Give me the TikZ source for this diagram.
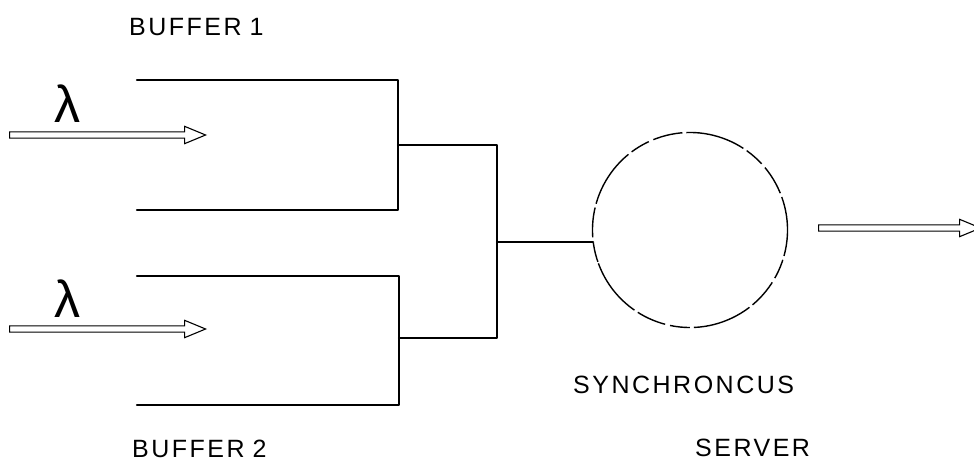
\documentclass[tikz,border=0pt]{standalone}
\usepackage{fontspec}
\setmainfont{Liberation Sans}
\newfontfamily\lblfont[LetterSpace=10]{Liberation Sans}
\usetikzlibrary{shapes.arrows}
\tikzset{
  wire/.style={line width=2.2pt, line cap=round, line join=round},
  lbl/.style={font=\lblfont\fontsize{25}{28}\selectfont, inner sep=0pt, anchor=base west},
  flow/.style={single arrow, draw, line width=1.1pt, inner sep=2.6pt,
    single arrow head extend=5.5pt, single arrow head indent=0pt,
    single arrow tip angle=45, anchor=west, shape border rotate=0},
  lam/.style={font=\fontsize{52}{54}\selectfont, inner sep=0pt, anchor=base},
  server/.style={circle, draw, line width=1.4pt, minimum size=195pt, inner sep=0pt,
    dash pattern=on 60pt off 4pt on 30pt off 5pt on 20pt off 4pt}
}
\begin{document}
\begin{tikzpicture}[x=1pt,y=-1pt]
\useasboundingbox (0,0) rectangle (974,463);
\clip (0,0) rectangle (974,463);
% buffer 1
\coordinate (b1tl) at (137,80);
\coordinate (b1tr) at (398,80);
\coordinate (b1br) at (398,210);
\coordinate (b1bl) at (137,210);
\draw[wire] (b1tl) -- (b1tr) -- (b1br) -- (b1bl);
% buffer 2
\coordinate (b2tl) at (137,276);
\coordinate (b2tr) at (399,276);
\coordinate (b2br) at (399,405);
\coordinate (b2bl) at (137,405);
\draw[wire] (b2tl) -- (b2tr) -- (b2br) -- (b2bl);
% merge
\coordinate (m1) at (398,145);
\coordinate (m2) at (399,338);
\coordinate (j1) at (497,145);
\coordinate (j2) at (497,338);
\coordinate (jm) at (497,242);
\draw[wire] (m1) -- (j1) -- (j2) -- (m2);
% server
\node[server, rotate=200] (srv) at (690,230) {};
\draw[wire] (jm) -- (593,242);
% arrows
\node[flow, minimum height=196pt] (in1) at (9,135) {};
\node[flow, minimum height=196pt] (in2) at (9,329) {};
\node[flow, minimum height=162pt] (out) at (818,228) {};
% lambdas
\node[lam] (l1) at (67,122) {λ};
\node[lam] (l2) at (67,317) {λ};
% labels
\node[lbl] (t1) at (129,35) {BUFFER\hspace{8pt}1};
\node[lbl] (t2) at (132,457) {BUFFER\hspace{8pt}2};
\node[lbl] (t3) at (573,393) {SYNCHRONCUS};
\node[lbl] (t4) at (695,456) {SERVER};
\end{tikzpicture}
\end{document}
